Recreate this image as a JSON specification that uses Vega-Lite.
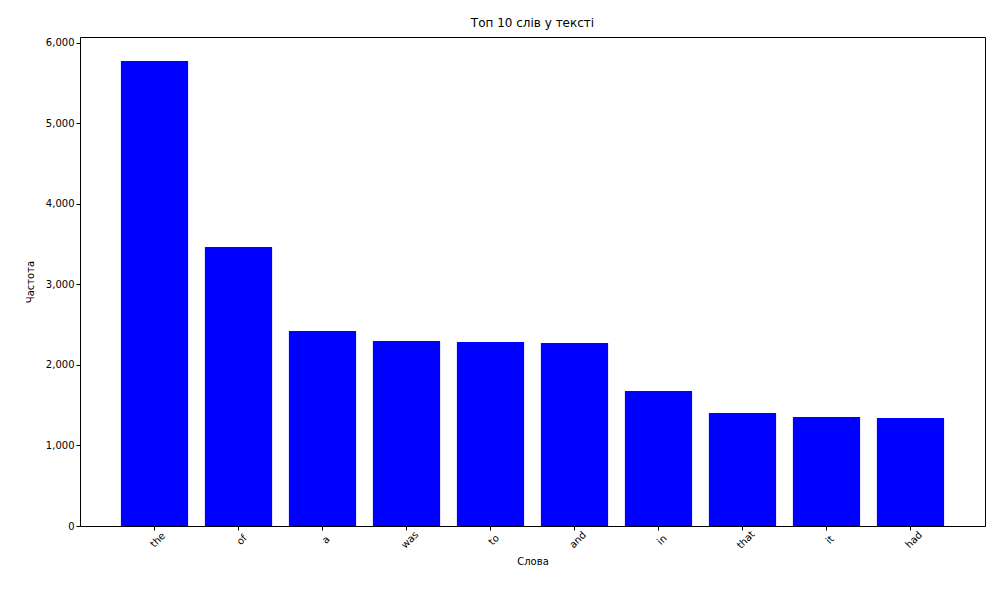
{
  "$schema": "https://vega.github.io/schema/vega-lite/v6.json",
  "width": 905,
  "height": 489,
  "autosize": {"type": "none"},
  "padding": {"left": 80, "top": 37, "right": 15, "bottom": 74},
  "background": "white",
  "config": {
    "font": "DejaVu Sans",
    "view": {"stroke": "black", "strokeWidth": 1},
    "axis": {"grid": false, "domain": false, "tickColor": "black", "tickSize": 4, "labelColor": "black", "labelFontSize": 10, "titleFontSize": 10, "titleFontWeight": "normal", "titleColor": "black"}
  },
  "title": {"text": "Топ 10 слів у тексті", "fontSize": 12, "fontWeight": "normal", "offset": 7},
  "data": {"values": [
    {"word": "the", "count": 5776},
    {"word": "of", "count": 3466},
    {"word": "a", "count": 2422},
    {"word": "was", "count": 2298},
    {"word": "to", "count": 2286},
    {"word": "and", "count": 2273},
    {"word": "in", "count": 1677},
    {"word": "that", "count": 1404},
    {"word": "it", "count": 1354},
    {"word": "had", "count": 1342}
  ]},
  "mark": {"type": "bar", "color": "#0000ff"},
  "encoding": {
    "x": {"field": "word", "type": "nominal", "sort": null, "title": "Слова",
      "scale": {"paddingInner": 0.2, "paddingOuter": 0.487},
      "axis": {"labelAngle": -45, "labelAlign": "center", "labelBaseline": "top", "labelPadding": 6, "titlePadding": 6}},
    "y": {"field": "count", "type": "quantitative", "title": "Частота",
      "scale": {"domain": [0, 6074], "nice": false},
      "axis": {"values": [0, 1000, 2000, 3000, 4000, 5000, 6000], "titlePadding": 10}}
  }
}
